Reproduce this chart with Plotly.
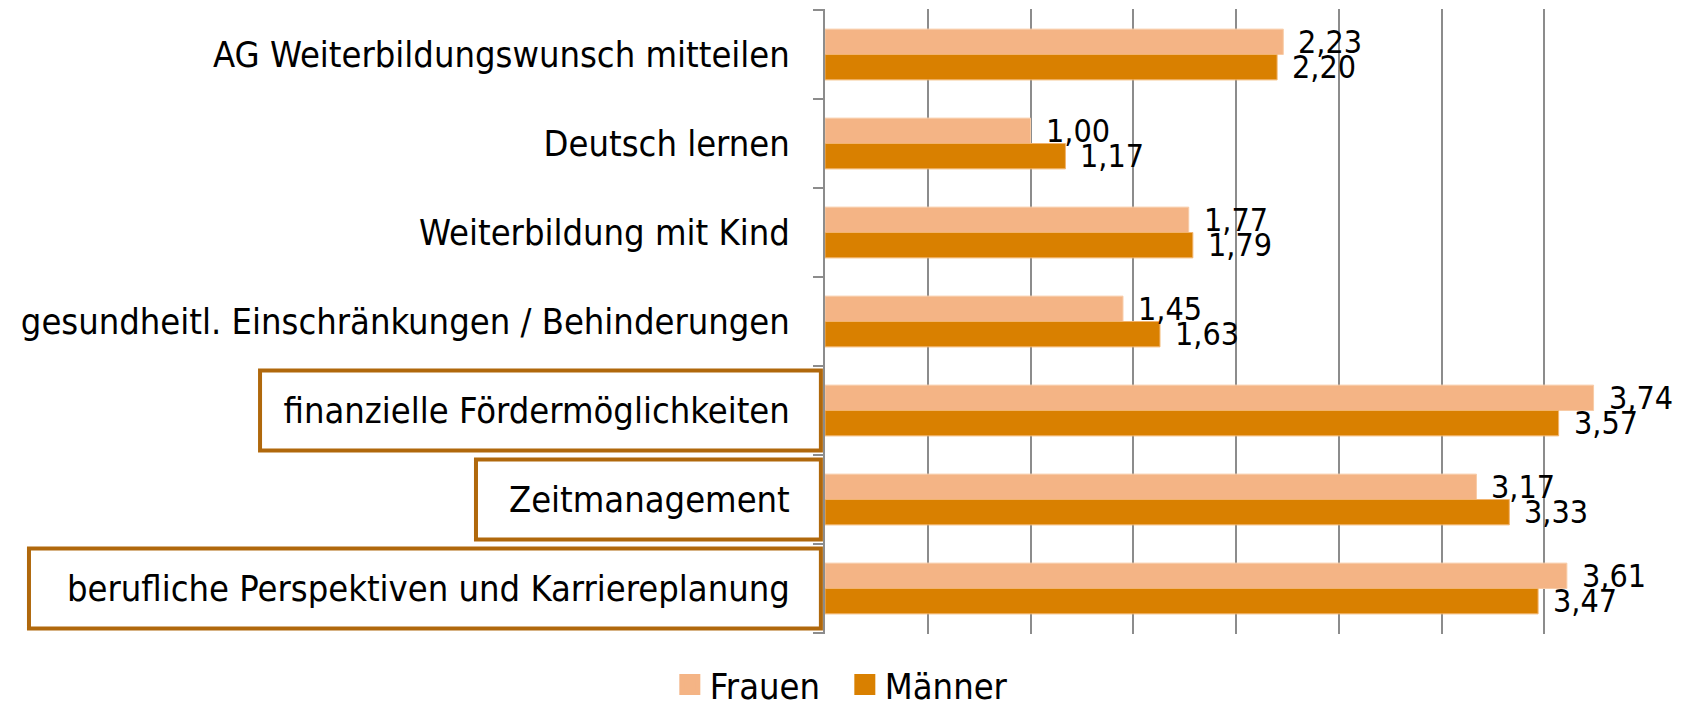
import plotly.graph_objects as go

categories = [
    "AG Weiterbildungswunsch mitteilen",
    "Deutsch lernen",
    "Weiterbildung mit Kind",
    "gesundheitl. Einschränkungen / Behinderungen",
    "finanzielle Fördermöglichkeiten",
    "Zeitmanagement",
    "berufliche Perspektiven und Karriereplanung",
]
frauen = [2.23, 1.00, 1.77, 1.45, 3.74, 3.17, 3.61]
maenner = [2.20, 1.17, 1.79, 1.63, 3.57, 3.33, 3.47]
highlighted = ["finanzielle Fördermöglichkeiten", "Zeitmanagement",
               "berufliche Perspektiven und Karriereplanung"]

FONT = "DejaVu Sans Condensed, DejaVu Sans, sans-serif"
C_F = "#F4B485"
C_M = "#D98000"
GRID = "#8C8C8C"
BORDER = "#B0680C"
BARGAP = 0.43

fig = go.Figure()
fig.add_trace(go.Bar(y=categories, x=frauen, orientation="h", name="Frauen",
                     marker=dict(color=C_F, line=dict(color="#F8CBA6", width=1)),
                     showlegend=False))
fig.add_trace(go.Bar(y=categories, x=maenner, orientation="h", name="Männer",
                     marker=dict(color=C_M, line=dict(color="#F2B46E", width=1)),
                     showlegend=False))
# legend entries with larger square symbols
for name, col in [("Frauen", C_F), ("Männer", C_M)]:
    fig.add_trace(go.Scatter(x=[None], y=[None], mode="markers", name=name,
                             marker=dict(symbol="square", size=16, color=col,
                                         line=dict(color=col, width=5))))

half = (1 - BARGAP) / 4
annotations = []
for i, (f, m) in enumerate(zip(frauen, maenner)):
    for val, off in [(f, -half), (m, half)]:
        annotations.append(dict(
            x=val, y=i + off, xref="x", yref="y", xanchor="left", yanchor="middle",
            text=f"{val:.2f}".replace(".", ","), showarrow=False, xshift=13,
            font=dict(family=FONT, size=32, color="#000000")))
fig.update_layout(annotations=annotations)

shapes = []
# category boundary ticks on the left of the axis
for k in range(len(categories) + 1):
    shapes.append(dict(type="line", xref="paper", yref="y", x0=-0.0146, x1=0,
                       y0=k - 0.5, y1=k - 0.5, line=dict(color=GRID, width=2)))
# boxes round highlighted labels
box_left = {"finanzielle Fördermöglichkeiten": -0.6873,
            "Zeitmanagement": -0.4246,
            "berufliche Perspektiven und Karriereplanung": -0.9684}
for name in highlighted:
    i = categories.index(name)
    shapes.append(dict(type="rect", xref="paper", yref="y", x0=box_left[name], x1=-0.005,
                       y0=i - 0.45, y1=i + 0.45, line=dict(color=BORDER, width=4),
                       fillcolor="rgba(0,0,0,0)", layer="above"))
fig.update_layout(shapes=shapes)

fig.update_layout(
    width=1665, height=694,
    margin=dict(l=817, r=26, t=1, b=68),
    plot_bgcolor="white", paper_bgcolor="white",
    barmode="group", bargap=BARGAP, bargroupgap=0,
    font=dict(family=FONT, size=36, color="#000000"),
    xaxis=dict(range=[0, 4], dtick=0.5, showgrid=True, gridcolor=GRID, gridwidth=2,
               showticklabels=False, zeroline=False, showline=False, ticks=""),
    yaxis=dict(type="category", autorange="reversed", showgrid=False, zeroline=False,
               showline=True, linecolor=GRID, linewidth=2, ticks="",
               ticklabelstandoff=26, tickfont=dict(family=FONT, size=36)),
    legend=dict(orientation="h", xref="container", yref="container", x=0.5026, y=0.025,
                xanchor="center", yanchor="middle", font=dict(family=FONT, size=36),
                itemsizing="trace", entrywidth=130, entrywidthmode="pixels"),
)

fig.write_html("out.html")
